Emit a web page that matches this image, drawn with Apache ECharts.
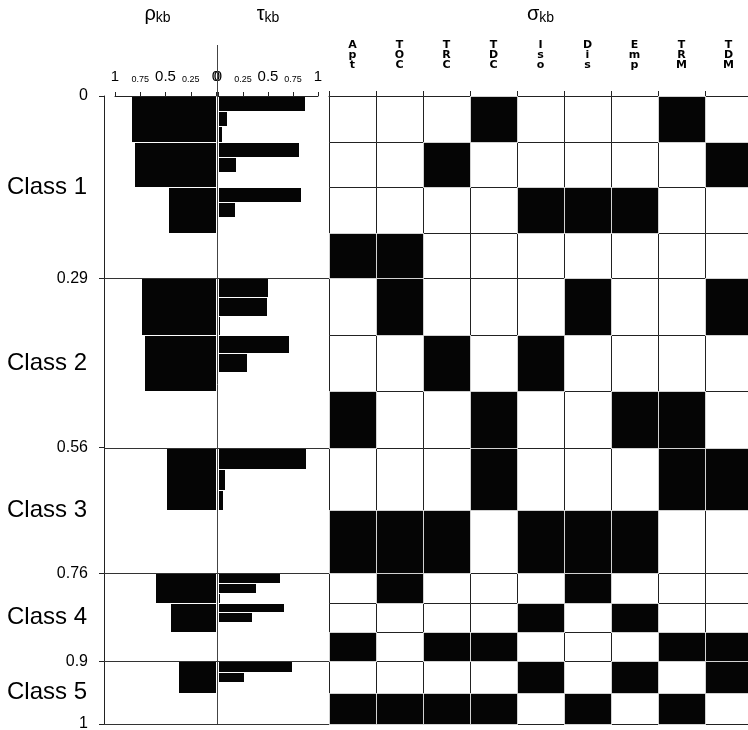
<!DOCTYPE html>
<html><head><meta charset="utf-8">
<script src="https://cdn.jsdelivr.net/npm/echarts@6/dist/echarts.min.js"></script>
<style>html,body{margin:0;padding:0;background:#fff}#c{width:748px;height:730px}</style>
</head><body><div id="c"></div>
<script>
// ---- data ----
const classNames = ['Class 1', 'Class 2', 'Class 3', 'Class 4', 'Class 5'];
const classBounds = [0, 0.29, 0.56, 0.76, 0.9, 1];
const rowsPerClass = [4, 3, 2, 3, 2];
const sigmaCodes = ['Apt', 'TOC', 'TRC', 'TDC', 'Iso', 'Dis', 'Emp', 'TRM', 'TDM'];
const weightTicks = [0, 0.25, 0.5, 0.75, 1];
// one value per row (null = no bar)
const rhoValues  = [0.83, 0.80, 0.47, null, 0.73, 0.70, null, 0.49, null, 0.59, 0.45, null, 0.37, null];
const tauFirst   = [0.87, 0.81, 0.83, null, 0.50, 0.71, null, 0.88, null, 0.62, 0.66, null, 0.74, null];
const tauSecond  = [0.09, 0.18, 0.17, null, 0.49, 0.29, null, 0.07, null, 0.38, 0.34, null, 0.26, null];
const tauThird   = [0.04, 0,    0,    null, 0.02, 0,    null, 0.05, null, 0.02, 0,    null, 0,    null];
const sigmaMatrix = [
  [0,0,0,1,0,0,0,1,0],
  [0,0,1,0,0,0,0,0,1],
  [0,0,0,0,1,1,1,0,0],
  [1,1,0,0,0,0,0,0,0],
  [0,1,0,0,0,1,0,0,1],
  [0,0,1,0,1,0,0,0,0],
  [1,0,0,1,0,0,1,1,0],
  [0,0,0,1,0,0,0,1,1],
  [1,1,1,0,1,1,1,0,0],
  [0,1,0,0,0,1,0,0,0],
  [0,0,0,0,1,0,1,0,0],
  [1,0,1,1,0,0,0,1,1],
  [0,0,0,0,1,0,1,0,1],
  [1,1,1,1,0,1,0,1,0]
];

// ---- derived ----
const FONT = '"Liberation Sans", Arial, Helvetica, sans-serif';
const rowBounds = [];
classBounds.slice(0, -1).forEach((b, i) => {
  const n = rowsPerClass[i], step = (classBounds[i + 1] - b) / n;
  for (let j = 0; j < n; j++) rowBounds.push([b + step * j, b + step * (j + 1)]);
});
const classCenters = classBounds.slice(0, -1).map((b, i) => (b + classBounds[i + 1]) / 2);

const rhoData = [];
rhoValues.forEach((v, r) => { if (v != null) rhoData.push([v, rowBounds[r][0], rowBounds[r][1]]); });
const tauData = [];
[tauFirst, tauSecond, tauThird].forEach((arr, k) => {
  arr.forEach((v, r) => {
    if (v == null || v === 0) return;
    const h = (rowBounds[r][1] - rowBounds[r][0]) / 3;
    const ys = rowBounds[r][0] + h * k;
    tauData.push([v, ys, ys + h]);
  });
});
const cellData = [];
[0, 1].forEach(flag => {
  sigmaMatrix.forEach((row, r) => row.forEach((v, c) => {
    if (v === flag) cellData.push([c, rowBounds[r][0], rowBounds[r][1], v]);
  }));
});

function tickFmt(v) {
  if (v === 0.25 || v === 0.75) return '{s|' + v + '}';
  return '{b|' + v + '}';
}
const tickRich = {
  s: { fontSize: 9, fontFamily: FONT, color: '#000' },
  b: { fontSize: 15, fontFamily: FONT, color: '#000' }
};
function nameRich() {
  return {
    g: { fontSize: 20, fontFamily: FONT, color: '#000' },
    s: { fontSize: 14, fontFamily: FONT, color: '#000', padding: [7, 0, 0, 0] }
  };
}
const blk = '#050505';

const option = {
  animation: false,
  backgroundColor: '#fff',
  grid: [
    { left: 104, top: 96, width: 225, height: 628, outerBoundsMode: 'none' },
    { left: 115, top: 96, width: 101, height: 628, outerBoundsMode: 'none' },
    { left: 218, top: 96, width: 100, height: 628, outerBoundsMode: 'none' },
    { left: 329, top: 96, width: 423, height: 628, outerBoundsMode: 'none' }
  ],
  xAxis: [
    { gridIndex: 0, type: 'value', min: 0, max: 1, show: false },
    { gridIndex: 1, type: 'value', min: 0, max: 1, inverse: true, position: 'top', offset: 7,
      axisLine: { show: true, lineStyle: { color: '#222', width: 1 } },
      axisTick: { show: true, length: 4, customValues: weightTicks, lineStyle: { color: '#222' } },
      axisLabel: { customValues: weightTicks, margin: 5, formatter: tickFmt, rich: tickRich },
      splitLine: { show: false },
      name: '{g|ρ}{s|kb}', nameLocation: 'middle', nameGap: 64,
      nameTextStyle: { rich: nameRich(), padding: [0, 16, 0, 0] } },
    { gridIndex: 2, type: 'value', min: 0, max: 1, position: 'top', offset: 7,
      axisLine: { show: true, lineStyle: { color: '#222', width: 1 } },
      axisTick: { show: true, length: 4, customValues: weightTicks, lineStyle: { color: '#222' } },
      axisLabel: { customValues: weightTicks, margin: 5, formatter: tickFmt, rich: tickRich },
      splitLine: { show: false },
      name: '{g|τ}{s|kb}', nameLocation: 'middle', nameGap: 64,
      nameTextStyle: { rich: nameRich() } },
    { gridIndex: 3, type: 'category', data: sigmaCodes, position: 'top', offset: 7,
      axisLine: { show: true, lineStyle: { color: '#222', width: 1 } },
      axisTick: { show: true, length: 5, lineStyle: { color: '#222' } },
      axisLabel: { interval: 0, margin: 19, fontSize: 11, fontWeight: 'bold', lineHeight: 10,
        fontFamily: '"DejaVu Sans", sans-serif', color: '#000', formatter: s => s.split('').join('\n') },
      splitLine: { show: false },
      name: '{g|σ}{s|kb}', nameLocation: 'middle', nameGap: 64,
      nameTextStyle: { rich: nameRich() } }
  ],
  yAxis: [
    { gridIndex: 0, type: 'value', min: 0, max: 1, inverse: true, position: 'left',
      axisLine: { show: true, lineStyle: { color: '#222', width: 1 } },
      axisTick: { show: true, length: 5, customValues: classBounds, lineStyle: { color: '#222' } },
      axisLabel: { customValues: classBounds, margin: 16, fontSize: 16, fontFamily: FONT, color: '#000',
        formatter: v => String(v) },
      splitLine: { show: false } },
    { gridIndex: 0, type: 'value', min: 0, max: 1, inverse: true, position: 'left',
      axisLine: { show: false }, axisTick: { show: false },
      axisLabel: { customValues: classCenters, margin: 97, align: 'left', fontSize: 24, fontFamily: FONT, color: '#000',
        formatter: v => {
          let best = 0;
          classCenters.forEach((c, i) => { if (Math.abs(c - v) < Math.abs(classCenters[best] - v)) best = i; });
          return classNames[best];
        } },
      splitLine: { show: false } },
    { gridIndex: 1, type: 'value', min: 0, max: 1, inverse: true, show: false },
    { gridIndex: 2, type: 'value', min: 0, max: 1, inverse: true, show: false },
    { gridIndex: 3, type: 'value', min: 0, max: 1, inverse: true, show: false }
  ],
  series: [
    // class boundary lines in the left panel
    { type: 'custom', xAxisIndex: 0, yAxisIndex: 0, silent: true,
      data: classBounds.slice(1).map(b => [b]),
      renderItem: (p, api) => {
        const a = api.coord([0, api.value(0)]), c = api.coord([1, api.value(0)]);
        const y = Math.round(a[1]) + 0.5;
        return { type: 'line', shape: { x1: a[0], y1: y, x2: c[0], y2: y }, style: { stroke: '#333', lineWidth: 1 } };
      } },
    // rho bars
    { type: 'custom', xAxisIndex: 1, yAxisIndex: 2, silent: true, data: rhoData,
      renderItem: (p, api) => {
        const a = api.coord([api.value(0), api.value(1)]), b = api.coord([0, api.value(2)]);
        const x = Math.round(a[0]), y = Math.round(a[1]), yb = Math.round(b[1]);
        return { type: 'rect', shape: { x: x, y: y + 1, width: Math.round(b[0]) - x, height: yb - y - 1 },
          style: { fill: blk } };
      } },
    // tau bars
    { type: 'custom', xAxisIndex: 2, yAxisIndex: 3, silent: true, data: tauData,
      renderItem: (p, api) => {
        const a = api.coord([0, api.value(1)]), b = api.coord([api.value(0), api.value(2)]);
        const x = Math.round(a[0]) + 1, y = Math.round(a[1]), yb = Math.round(b[1]);
        return { type: 'rect', shape: { x: x, y: y + 1, width: Math.max(1, Math.round(b[0]) - x), height: yb - y - 1 },
          style: { fill: blk } };
      } },
    // zero line
    { type: 'custom', xAxisIndex: 2, yAxisIndex: 3, silent: true, data: [[0, 0, 1]],
      renderItem: (p, api) => {
        const a = api.coord([0, api.value(1)]), b = api.coord([0, api.value(2)]);
        const x = Math.round(a[0]) - 0.5;
        return { type: 'line', shape: { x1: x, y1: a[1] - 51, x2: x, y2: b[1] }, style: { stroke: '#444', lineWidth: 1 } };
      } },
    // sigma cells
    { type: 'custom', xAxisIndex: 3, yAxisIndex: 4, silent: true, data: cellData,
      renderItem: (p, api) => {
        const col = api.value(0);
        const c0 = api.coord([col, api.value(1)]), c1 = api.coord([col, api.value(2)]);
        const w = api.size([1, 0])[0];
        const x = Math.round(c0[0] - w / 2), xr = Math.round(c0[0] + w / 2);
        const yt = Math.round(c0[1]), yb = Math.round(c1[1]);
        if (api.value(3) === 1) {
          return { type: 'group', children: [
            { type: 'rect', shape: { x: x, y: yt, width: xr - x + 1, height: yb - yt + 1 }, style: { fill: '#d2d2d2' } },
            { type: 'rect', shape: { x: x + 1, y: yt + 1, width: xr - x - 1, height: yb - yt - 1 }, style: { fill: blk } }
          ] };
        }
        return { type: 'rect', shape: { x: x + 0.5, y: yt + 0.5, width: xr - x, height: yb - yt },
          style: { fill: '#fff', stroke: '#222', lineWidth: 1 } };
      } }
  ]
};
const chart = echarts.init(document.getElementById('c'), null, { renderer: 'canvas' });
chart.setOption(option);
</script>
</body></html>
